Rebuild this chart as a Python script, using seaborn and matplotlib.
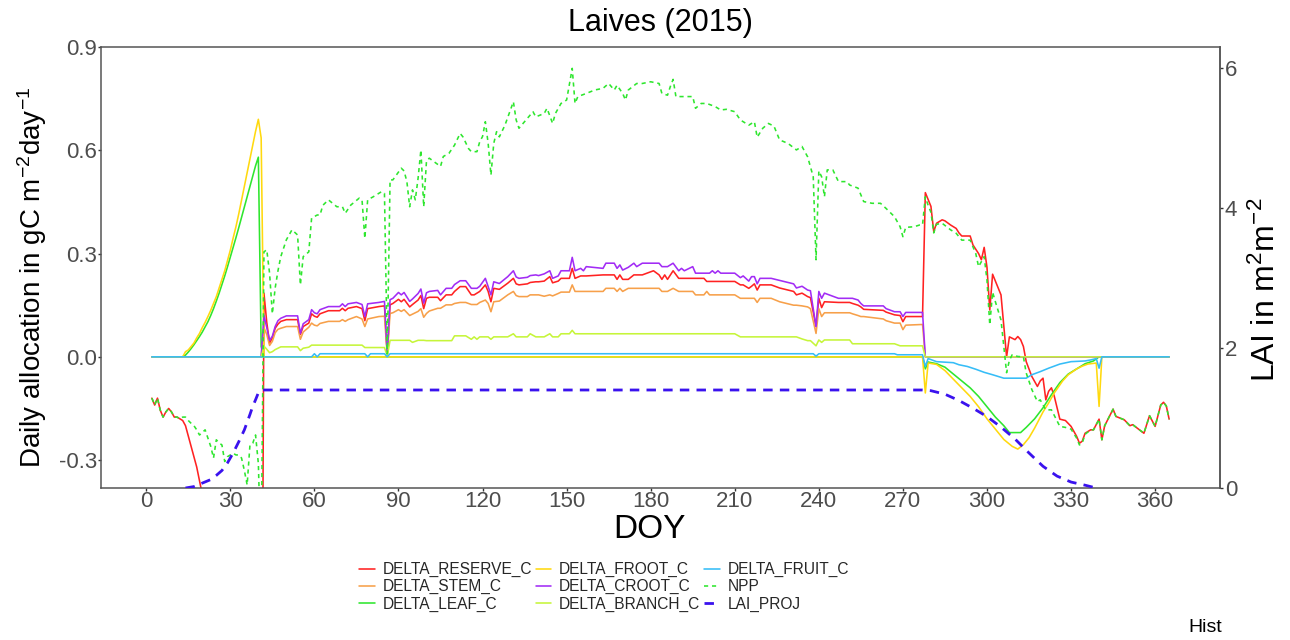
import matplotlib
matplotlib.use("Agg")
import matplotlib.pyplot as plt
from matplotlib.lines import Line2D
from matplotlib.ticker import FormatStrFormatter
import seaborn as sns

sns.set_style("white")
plt.rcParams["font.family"] = ["Liberation Sans", "DejaVu Sans"]
plt.rcParams["mathtext.fontset"] = "custom"
plt.rcParams["mathtext.rm"] = "Liberation Sans"
plt.rcParams["mathtext.it"] = "Liberation Sans:italic"
plt.rcParams["mathtext.bf"] = "Liberation Sans:bold"
plt.rcParams["mathtext.default"] = "regular"
plt.rcParams["axes.unicode_minus"] = False

# ------------------------------------------------------------------
# Daily carbon allocation, Laives 2015 (gC m-2 day-1) and projected LAI
# ------------------------------------------------------------------

# growing-season days shared by the woody / reserve pools
season_doy = [
    42, 43, 44, 45, 46, 47, 48, 50, 54, 55, 56, 58, 59, 60, 61,
    62, 65, 69, 70, 71, 72, 75, 77, 78, 79, 83, 85, 86, 87, 88,
    90, 91, 92, 94, 95, 97, 98, 99, 100, 101, 104, 105, 107, 109, 110,
    112, 114, 116, 117, 118, 119, 121, 122, 123, 124, 126, 129, 131, 132, 133,
    136, 137, 139, 140, 142, 144, 145, 147, 148, 151, 152, 153, 155, 156, 157,
    163, 164, 167, 168, 169, 170, 172, 174, 175, 177, 181, 183, 184, 185, 186,
    188, 190, 191, 192, 195, 196, 199, 200, 201, 202, 203, 204, 205, 210, 212,
    213, 215, 216, 217, 218, 219, 223, 226, 231, 232, 234, 236, 237, 239, 240,
    241, 242, 247, 251, 252, 254, 255, 256, 263, 264, 267, 269, 270, 271, 277,
]

croot_season = [
    0.120, 0.085, 0.048, 0.060, 0.088, 0.105, 0.112, 0.119, 0.119, 0.068, 0.096, 0.108, 0.137, 0.128, 0.125,
    0.137, 0.146, 0.146, 0.154, 0.146, 0.154, 0.158, 0.152, 0.117, 0.154, 0.158, 0.161, 0.008, 0.166, 0.170,
    0.187, 0.180, 0.187, 0.161, 0.168, 0.184, 0.197, 0.156, 0.186, 0.190, 0.193, 0.180, 0.199, 0.199, 0.210,
    0.221, 0.221, 0.199, 0.199, 0.199, 0.205, 0.228, 0.204, 0.180, 0.218, 0.213, 0.233, 0.250, 0.232, 0.228,
    0.231, 0.236, 0.238, 0.236, 0.241, 0.250, 0.228, 0.235, 0.250, 0.250, 0.289, 0.250, 0.257, 0.250, 0.262,
    0.257, 0.272, 0.272, 0.257, 0.267, 0.252, 0.260, 0.272, 0.262, 0.272, 0.272, 0.272, 0.262, 0.262, 0.262,
    0.272, 0.250, 0.257, 0.250, 0.262, 0.243, 0.243, 0.243, 0.243, 0.250, 0.243, 0.250, 0.243, 0.243, 0.230,
    0.235, 0.220, 0.233, 0.233, 0.212, 0.228, 0.228, 0.222, 0.212, 0.200, 0.205, 0.194, 0.192, 0.088, 0.190,
    0.170, 0.185, 0.170, 0.170, 0.170, 0.165, 0.155, 0.148, 0.148, 0.140, 0.131, 0.131, 0.117, 0.129, 0.129,
]

reserve_season = [
    0.185, 0.100, 0.040, 0.055, 0.083, 0.095, 0.103, 0.108, 0.108, 0.065, 0.088, 0.098, 0.125, 0.118, 0.115,
    0.125, 0.134, 0.134, 0.141, 0.134, 0.141, 0.146, 0.140, 0.105, 0.140, 0.146, 0.148, 0.006, 0.151, 0.155,
    0.167, 0.160, 0.167, 0.145, 0.152, 0.165, 0.178, 0.140, 0.170, 0.173, 0.173, 0.163, 0.180, 0.180, 0.190,
    0.204, 0.204, 0.180, 0.180, 0.185, 0.190, 0.209, 0.190, 0.160, 0.199, 0.196, 0.214, 0.228, 0.212, 0.209,
    0.212, 0.216, 0.218, 0.218, 0.220, 0.233, 0.215, 0.220, 0.228, 0.228, 0.257, 0.228, 0.235, 0.235, 0.235,
    0.238, 0.238, 0.238, 0.225, 0.238, 0.225, 0.225, 0.238, 0.238, 0.238, 0.250, 0.238, 0.225, 0.238, 0.225,
    0.250, 0.228, 0.228, 0.228, 0.228, 0.228, 0.228, 0.219, 0.219, 0.219, 0.219, 0.219, 0.219, 0.219, 0.209,
    0.209, 0.199, 0.205, 0.212, 0.194, 0.209, 0.209, 0.200, 0.190, 0.180, 0.185, 0.175, 0.172, 0.088, 0.170,
    0.143, 0.160, 0.158, 0.158, 0.155, 0.150, 0.145, 0.138, 0.135, 0.130, 0.122, 0.120, 0.102, 0.117, 0.117,
]

stem_season = [
    0.085, 0.065, 0.033, 0.045, 0.070, 0.080, 0.083, 0.088, 0.088, 0.051, 0.072, 0.086, 0.098, 0.092, 0.090,
    0.097, 0.103, 0.103, 0.108, 0.103, 0.108, 0.117, 0.110, 0.088, 0.110, 0.117, 0.118, 0.005, 0.126, 0.128,
    0.137, 0.132, 0.137, 0.120, 0.124, 0.132, 0.140, 0.115, 0.126, 0.133, 0.141, 0.141, 0.151, 0.151, 0.155,
    0.158, 0.158, 0.152, 0.152, 0.152, 0.158, 0.165, 0.155, 0.131, 0.160, 0.162, 0.180, 0.190, 0.178, 0.175,
    0.175, 0.180, 0.180, 0.180, 0.176, 0.180, 0.177, 0.184, 0.188, 0.188, 0.209, 0.190, 0.190, 0.190, 0.190,
    0.190, 0.199, 0.199, 0.190, 0.199, 0.190, 0.199, 0.199, 0.199, 0.199, 0.199, 0.199, 0.190, 0.190, 0.190,
    0.199, 0.190, 0.190, 0.190, 0.190, 0.180, 0.180, 0.190, 0.180, 0.180, 0.180, 0.180, 0.180, 0.180, 0.170,
    0.170, 0.170, 0.170, 0.170, 0.158, 0.170, 0.170, 0.160, 0.150, 0.150, 0.148, 0.145, 0.140, 0.068, 0.140,
    0.117, 0.128, 0.128, 0.128, 0.125, 0.120, 0.117, 0.117, 0.110, 0.105, 0.098, 0.098, 0.079, 0.092, 0.094,
]

branch_season = [
    0.031, 0.022, 0.012, 0.015, 0.021, 0.025, 0.029, 0.029, 0.029, 0.018, 0.025, 0.028, 0.034, 0.034, 0.034,
    0.034, 0.034, 0.034, 0.034, 0.034, 0.034, 0.034, 0.034, 0.027, 0.027, 0.027, 0.027, 0.002, 0.048, 0.048,
    0.048, 0.048, 0.048, 0.048, 0.042, 0.048, 0.048, 0.048, 0.047, 0.047, 0.047, 0.047, 0.047, 0.047, 0.061,
    0.061, 0.061, 0.051, 0.058, 0.051, 0.058, 0.058, 0.058, 0.051, 0.058, 0.058, 0.058, 0.067, 0.058, 0.058,
    0.058, 0.067, 0.058, 0.058, 0.058, 0.067, 0.058, 0.058, 0.067, 0.067, 0.077, 0.067, 0.067, 0.067, 0.067,
    0.067, 0.067, 0.067, 0.067, 0.067, 0.067, 0.067, 0.067, 0.067, 0.067, 0.067, 0.067, 0.067, 0.067, 0.067,
    0.067, 0.067, 0.067, 0.067, 0.067, 0.067, 0.067, 0.067, 0.067, 0.067, 0.067, 0.067, 0.067, 0.067, 0.058,
    0.058, 0.058, 0.058, 0.058, 0.058, 0.058, 0.058, 0.058, 0.058, 0.058, 0.052, 0.047, 0.047, 0.032, 0.049,
    0.042, 0.049, 0.049, 0.049, 0.038, 0.038, 0.038, 0.038, 0.038, 0.038, 0.038, 0.032, 0.032, 0.032, 0.032,
]

# reserve pool before leaf-out and after harvest
reserve_early_doy = [2, 3, 4, 5, 6, 7, 8, 9, 10, 11, 12, 13, 14, 15, 16, 17, 18, 19, 20, 21,
                     25, 30, 35, 40, 41]
reserve_early = [-0.120, -0.140, -0.120, -0.155, -0.175, -0.160, -0.150, -0.160, -0.175, -0.175,
                 -0.180, -0.185, -0.200, -0.230, -0.260, -0.290, -0.320, -0.360, -0.400, -0.460,
                 -0.750, -1.000, -1.200, -1.500, -1.450]
reserve_late_doy = [278, 280, 281, 282, 284, 285, 287, 289, 290, 291,
                    294, 295, 297, 298, 299, 300, 301, 302, 303, 304,
                    305, 306, 307, 308, 310, 311, 312, 313, 314, 316,
                    318, 319, 320, 321, 322, 323, 324, 326, 328, 330,
                    332, 333, 334, 335, 337, 338, 340, 341, 342, 345,
                    346, 349, 351, 352, 356, 358, 360, 362, 363, 364, 365]
reserve_late = [0.477, 0.437, 0.364, 0.388, 0.398, 0.395, 0.383, 0.373, 0.360, 0.351,
                0.351, 0.325, 0.300, 0.282, 0.318, 0.260, 0.136, 0.240, 0.220, 0.200,
                0.180, 0.090, 0.000, 0.058, 0.050, 0.059, 0.050, 0.030, -0.014, -0.057,
                -0.086, -0.070, -0.062, -0.125, -0.100, -0.090, -0.114, -0.181, -0.185, -0.202,
                -0.231, -0.251, -0.245, -0.222, -0.212, -0.212, -0.181, -0.241, -0.200, -0.152,
                -0.173, -0.183, -0.200, -0.197, -0.222, -0.171, -0.202, -0.140, -0.132, -0.143, -0.181]

# leaf and fine-root flush in spring, remobilisation in autumn
flush_doy = [2, 13, 14, 15, 16, 17, 18, 19, 20, 21, 22, 23, 24, 25, 26, 27,
             28, 29, 30, 31, 32, 33, 34, 35, 36, 37, 38, 39, 40, 41, 42]
leaf_flush = [0.0, 0.0, 0.005, 0.014, 0.024, 0.035, 0.047, 0.059, 0.072, 0.087, 0.102, 0.120, 0.140, 0.162, 0.185, 0.210,
              0.235, 0.262, 0.290, 0.318, 0.346, 0.375, 0.405, 0.435, 0.465, 0.495, 0.525, 0.555, 0.580, 0.030, 0.0]
froot_flush = [0.0, 0.0, 0.015, 0.020, 0.030, 0.040, 0.055, 0.068, 0.085, 0.100, 0.117, 0.135, 0.155, 0.175, 0.200, 0.225,
               0.250, 0.280, 0.310, 0.345, 0.378, 0.415, 0.455, 0.495, 0.535, 0.575, 0.615, 0.655, 0.690, 0.636, 0.0]

leaf_late_doy = [277, 278, 279, 282, 285, 288, 291, 294, 297, 300, 303, 306, 308,
                 312, 314, 317, 320, 323, 326, 329, 332, 335, 338, 340, 365]
leaf_late = [0.0, -0.035, -0.015, -0.020, -0.030, -0.050, -0.070, -0.090, -0.115, -0.145, -0.175, -0.200, -0.220,
             -0.220, -0.205, -0.180, -0.148, -0.110, -0.075, -0.050, -0.035, -0.020, -0.012, 0.0, 0.0]

froot_late_doy = [277, 278, 279, 282, 285, 288, 291, 294, 297, 300, 303, 306, 309, 311, 313,
                  315, 317, 320, 322, 324, 327, 329, 332, 334, 336, 339, 340, 341, 365]
froot_late = [0.0, -0.105, -0.018, -0.022, -0.040, -0.065, -0.090, -0.115, -0.145, -0.180, -0.210, -0.240, -0.260, -0.268, -0.255,
              -0.235, -0.207, -0.160, -0.134, -0.105, -0.070, -0.052, -0.035, -0.027, -0.021, -0.018, -0.144, 0.0, 0.0]

fruit_doy = [2, 59, 60, 61, 62, 78, 79, 80, 85, 86,
             87, 238, 239, 240, 267, 268, 277, 278, 279, 282,
             288, 290, 293, 296, 299, 302, 306, 314, 316, 319,
             322, 326, 330, 335, 337, 339, 340, 341, 365]
fruit_val = [0.0, 0.0, 0.009, 0.0, 0.009, 0.009, 0.0, 0.009, 0.009, 0.0,
             0.009, 0.009, 0.002, 0.009, 0.009, 0.006, 0.006, -0.028, -0.005, -0.014,
             -0.017, -0.023, -0.028, -0.036, -0.045, -0.052, -0.062, -0.062, -0.052, -0.043,
             -0.033, -0.021, -0.014, -0.012, -0.009, -0.005, -0.033, 0.0, 0.0]

# net primary production
npp_doy = [
    2, 3, 4, 5, 6, 7, 8, 9, 10, 11,
    12, 13, 14, 15, 16, 17, 18, 19, 20, 21,
    22, 23, 24, 25, 26, 27, 28, 29, 30, 31,
    32, 33, 34, 35, 36, 37, 38, 39, 40, 41,
    42, 43, 44, 45, 46, 47, 48, 50, 52, 54,
    55, 56, 58, 59, 61, 62, 63, 65, 68, 70,
    71, 73, 76, 77, 78, 79, 81, 84, 85, 86,
    87, 88, 91, 92, 93, 94, 95, 96, 97, 98,
    99, 100, 101, 103, 105, 106, 108, 110, 112, 113,
    115, 116, 118, 119, 120, 121, 122, 123, 124, 125,
    126, 128, 131, 132, 133, 136, 138, 139, 142, 143,
    145, 146, 148, 150, 152, 153, 154, 157, 160, 163,
    165, 167, 168, 170, 171, 172, 175, 177, 180, 183,
    184, 186, 187, 188, 189, 193, 195, 196, 198, 200,
    203, 205, 207, 210, 212, 214, 215, 217, 218, 220,
    222, 224, 226, 229, 232, 234, 236, 237, 238, 239,
    240, 241, 242, 243, 245, 247, 250, 251, 254, 256,
    259, 262, 264, 267, 269, 270, 271, 274, 276, 277,
    278, 279, 280, 281, 282, 284, 287, 289, 291, 294,
    296, 297, 299, 300, 301, 302, 303, 305, 306, 307,
    308, 309, 311, 313, 314, 316, 318, 319, 320, 321,
    323, 324, 326, 328, 330, 332, 333, 334, 335, 337,
    338, 340, 341, 342, 345, 346, 349, 351, 352, 356,
    358, 360, 362, 363, 364, 365,
]
npp_val = [
    -0.120, -0.140, -0.120, -0.155, -0.175, -0.160, -0.150, -0.160, -0.175, -0.175,
    -0.180, -0.175, -0.175, -0.185, -0.193, -0.200, -0.212, -0.227, -0.220, -0.212,
    -0.236, -0.260, -0.294, -0.241, -0.250, -0.256, -0.304, -0.290, -0.285, -0.280,
    -0.285, -0.285, -0.294, -0.330, -0.372, -0.256, -0.251, -0.227, -0.310, -0.600,
    0.305, 0.311, 0.243, 0.125, 0.200, 0.250, 0.291, 0.340, 0.369, 0.354,
    0.209, 0.291, 0.305, 0.403, 0.412, 0.412, 0.440, 0.456, 0.436, 0.436,
    0.417, 0.441, 0.461, 0.455, 0.344, 0.456, 0.465, 0.480, 0.475, 0.009,
    0.514, 0.514, 0.548, 0.540, 0.509, 0.436, 0.485, 0.456, 0.519, 0.601,
    0.436, 0.570, 0.577, 0.565, 0.553, 0.582, 0.591, 0.615, 0.649, 0.639,
    0.605, 0.596, 0.596, 0.625, 0.640, 0.683, 0.620, 0.528, 0.620, 0.654,
    0.639, 0.673, 0.741, 0.688, 0.664, 0.693, 0.712, 0.697, 0.707, 0.722,
    0.678, 0.707, 0.736, 0.746, 0.838, 0.736, 0.756, 0.765, 0.775, 0.780,
    0.794, 0.775, 0.789, 0.765, 0.746, 0.775, 0.794, 0.794, 0.799, 0.794,
    0.765, 0.760, 0.785, 0.806, 0.756, 0.756, 0.756, 0.722, 0.736, 0.736,
    0.727, 0.717, 0.719, 0.712, 0.688, 0.678, 0.673, 0.683, 0.638, 0.664,
    0.678, 0.670, 0.630, 0.620, 0.601, 0.611, 0.581, 0.552, 0.523, 0.282,
    0.540, 0.523, 0.465, 0.543, 0.543, 0.509, 0.509, 0.499, 0.490, 0.451,
    0.446, 0.446, 0.431, 0.407, 0.378, 0.349, 0.376, 0.378, 0.383, 0.383,
    0.465, 0.440, 0.420, 0.360, 0.385, 0.388, 0.369, 0.359, 0.339, 0.339,
    0.300, 0.262, 0.291, 0.223, 0.093, 0.188, 0.160, 0.107, 0.030, -0.046,
    -0.010, 0.006, 0.001, 0.000, -0.047, -0.095, -0.130, -0.125, -0.140, -0.154,
    -0.154, -0.170, -0.202, -0.205, -0.210, -0.236, -0.256, -0.250, -0.225, -0.212,
    -0.212, -0.181, -0.241, -0.200, -0.152, -0.173, -0.183, -0.200, -0.197, -0.222,
    -0.171, -0.202, -0.140, -0.132, -0.143, -0.181,
]

# projected leaf area index (m2 m-2), secondary axis
lai_doy = [14, 17, 20, 23, 25, 27, 29, 31, 33, 35, 37, 38, 39, 40, 41, 42,
           277, 280, 285, 290, 295, 300, 305, 310, 315, 320, 325, 330, 335, 339]
lai_val = [0.0, 0.02, 0.07, 0.12, 0.18, 0.25, 0.36, 0.50, 0.66, 0.83, 1.05, 1.167, 1.26, 1.36, 1.40, 1.40,
           1.40, 1.39, 1.34, 1.25, 1.14, 1.02, 0.87, 0.70, 0.50, 0.31, 0.17, 0.085, 0.04, 0.0]

doy_ticks = [0, 30, 60, 90, 120, 150, 180, 210, 240, 270, 300, 330, 360]
alloc_ticks = [-0.3, 0.0, 0.3, 0.6, 0.9]
lai_ticks = [0, 2, 4, 6]

# ---- assemble the full-year series ----------------------------------
dormant_start, dormant_end = [2, 41], [278, 365]
croot_doy = dormant_start + season_doy + dormant_end
croot_val = [0.0, 0.0] + croot_season + [0.0, 0.0]
stem_doy = dormant_start + season_doy + dormant_end
stem_val = [0.0, 0.0] + stem_season + [0.0, 0.0]
branch_doy = dormant_start + season_doy + dormant_end
branch_val = [0.0, 0.0] + branch_season + [0.0, 0.0]
reserve_doy = reserve_early_doy + season_doy + reserve_late_doy
reserve_val = reserve_early + reserve_season + reserve_late
leaf_doy = flush_doy + leaf_late_doy
leaf_val = leaf_flush + leaf_late
froot_doy = flush_doy + froot_late_doy
froot_val = froot_flush + froot_late

series = [
    ("DELTA_RESERVE_C", reserve_doy, reserve_val, "#FF2222", None),
    ("DELTA_STEM_C", stem_doy, stem_val, "#F7A04A", None),
    ("DELTA_LEAF_C", leaf_doy, leaf_val, "#2EE62E", None),
    ("DELTA_FROOT_C", froot_doy, froot_val, "#FFD90F", None),
    ("DELTA_CROOT_C", croot_doy, croot_val, "#A22CF5", None),
    ("DELTA_BRANCH_C", branch_doy, branch_val, "#C6F53A", None),
    ("DELTA_FRUIT_C", fruit_doy, fruit_val, "#36BDF7", None),
    ("NPP", npp_doy, npp_val, "#2EE62E", (2.6, 2.4)),
]
lai_color = "#3A12EE"
lai_dashes = (3.4, 2.6)

for name, d, v, _, _ in series:
    assert len(d) == len(v), name
assert len(lai_doy) == len(lai_val)

# ---- figure ----------------------------------------------------------
W, H = 1290, 640
fig = plt.figure(figsize=(W / 100, H / 100), dpi=100)
left, right, top, bottom = 101, 1220, 47, 488
ax = fig.add_axes([left / W, 1 - bottom / H, (right - left) / W, (bottom - top) / H])

line_w = 1.15
for name, d, v, color, dashes in series:
    sns.lineplot(x=d, y=v, ax=ax, color=color, lw=line_w, estimator=None, sort=False)
    if dashes is not None:
        ax.lines[-1].set_dashes(dashes)

ax.set_xlim(-16.15, 383.15)
ax.set_ylim(-0.381, 0.9)
ax.set_xticks(doy_ticks)
ax.set_yticks(alloc_ticks)
ax.yaxis.set_major_formatter(FormatStrFormatter("%.1f"))
ax.set_xlabel("")
ax.set_ylabel("")

ax2 = ax.twinx()
sns.lineplot(x=lai_doy, y=lai_val, ax=ax2, color=lai_color, lw=2.0, estimator=None, sort=False)
ax2.lines[-1].set_dashes(lai_dashes)
ax2.set_ylim(0, 6.3)
ax2.set_yticks(lai_ticks)
ax2.set_ylabel("")

axis_color = "#555555"
tick_kw = dict(labelsize=16, labelcolor="#4D4D4D", color="#333333",
               length=2.2, width=1.0, direction="out")
ax.tick_params(axis="x", bottom=True, pad=0.0, **tick_kw)
ax.tick_params(axis="y", left=True, pad=0.8, **tick_kw)
ax2.tick_params(axis="y", right=True, pad=1.2, **tick_kw)
for s in ax.spines.values():
    s.set_color(axis_color)
    s.set_linewidth(1.1)
for s in ax2.spines.values():
    s.set_visible(False)
ax2.spines["right"].set_visible(True)
ax2.spines["right"].set_color(axis_color)
ax2.spines["right"].set_linewidth(1.1)
ax.grid(False)
ax2.grid(False)

# ---- texts -----------------------------------------------------------
cx = (left + right) / 2 / W
fig.text(cx, 1 - 23 / H, "Laives (2015)", ha="center", va="center", fontsize=22, color="black")
fig.text(649 / W, 1 - 530 / H, "DOY", ha="center", va="center", fontsize=24, color="black")
fig.text(32 / W, 1 - 277 / H, r"Daily allocation in gC m$^{-2}$day$^{-1}$",
         rotation=90, ha="center", va="center", fontsize=20, color="black")
fig.text(1266 / W, 1 - 290 / H, r"LAI in m$^{2}$m$^{-2}$",
         rotation=90, ha="center", va="center", fontsize=23, color="black")
fig.text(1222 / W, 1 - 628 / H, "Hist", ha="right", va="center", fontsize=14, color="black")

# ---- legend ----------------------------------------------------------
handles = []
for name, _, _, color, dashes in series:
    h = Line2D([], [], color=color, lw=line_w)
    if dashes is not None:
        h.set_dashes(dashes)
    handles.append(h)
h_lai = Line2D([], [], color=lai_color, lw=2.0)
h_lai.set_dashes(lai_dashes)
handles.append(h_lai)
labels = [s[0] for s in series] + ["LAI_PROJ"]

fig.legend(handles, labels, ncol=3, loc="upper left",
           bbox_to_anchor=(359 / W, 1 - 562 / H), frameon=False,
           fontsize=11.2, handlelength=1.0, handletextpad=0.5,
           columnspacing=0.25, labelspacing=0.14, borderpad=0.0, borderaxespad=0.0)

fig.savefig("out.png", dpi=100)
